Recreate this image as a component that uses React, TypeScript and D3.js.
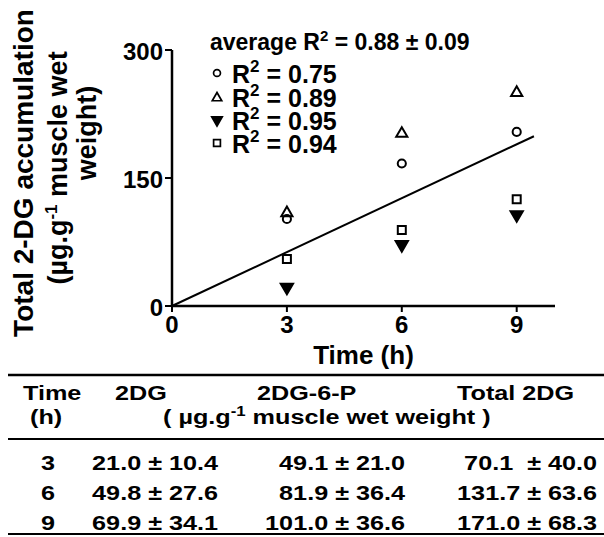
import React from 'react';
import * as d3 from 'd3';

// time points (h) and the four individual fish series
const hours = [3, 6, 9];
const circleVals = [102, 167, 204];
const triUpVals = [109, 202, 250];
const triDownVals = [22, 72, 107];
const squareVals = [55, 89, 125];

// regression through the origin
const fitSlope = 21.05;
const fitEnd = 9.45;

const xTicks = [0, 3, 6, 9];
const yTicks = [0, 150, 300];

const legendLabels = ['0.75', '0.89', '0.95', '0.94'];
const averageLabel = '0.88 \u00b1 0.09';

// table
const tableHeader = ['Time', '2DG', '2DG-6-P', 'Total 2DG'];
const tableTimes = ['3', '6', '9'];
const col2DG = ['21.0 \u00b1 10.4', '49.8 \u00b1 27.6', '69.9 \u00b1 34.1'];
const col2DG6P = ['49.1 \u00b1 21.0', '81.9 \u00b1 36.4', '101.0 \u00b1 36.6'];
const colTotal = ['70.1  \u00b1 40.0', '131.7 \u00b1 63.6', '171.0 \u00b1 68.3'];

const FONT = "'Liberation Sans', Arial, Helvetica, sans-serif";

const x = d3.scaleLinear().domain([0, 10]).range([172, 555]);
const y = d3.scaleLinear().domain([0, 300]).range([306, 50]);

const sym = (type: d3.SymbolType, size: number) => d3.symbol().type(type).size(size)() || '';

const shapes = [
  { vals: circleVals, d: sym(d3.symbolCircle, 52), fill: 'none', rot: 0 },
  { vals: triUpVals, d: sym(d3.symbolTriangle, 54), fill: 'none', rot: 0 },
  { vals: triDownVals, d: sym(d3.symbolTriangle, 66), fill: '#000', rot: 180 },
  { vals: squareVals, d: sym(d3.symbolSquare, 64), fill: 'none', rot: 0 },
];

const legendY = [73, 98, 120, 143];
const legendBase = [83, 107, 130, 153];

const rowBase = [470, 500, 530];

// table text is set wider than the plot text
const TText = ({ x, y, anchor = 'start', children }: any) => (
  <text
    transform={`translate(${x},${y}) scale(1.2,1)`}
    textAnchor={anchor}
    style={{ whiteSpace: 'pre' }}
  >
    {children}
  </text>
);

const App = () => {
  return (
    <svg
      width={604}
      height={537}
      style={{ position: 'absolute', left: 0, top: 0, background: '#fff' }}
      fontFamily={FONT}
      fontWeight="bold"
    >
      {/* axes */}
      <line x1={x(0)} x2={x(0)} y1={y(0)} y2={y(300)} stroke="#000" strokeWidth={2.5} />
      <line x1={x(0)} x2={x(10)} y1={y(0)} y2={y(0)} stroke="#000" strokeWidth={2.5} />
      {yTicks.map((t) => (
        <g key={t}>
          <line x1={x(0) - 7} x2={x(0)} y1={y(t)} y2={y(t)} stroke="#000" strokeWidth={2} />
          <text x={x(0) - 9} y={y(t) + 10} textAnchor="end" fontSize={24}>
            {t}
          </text>
        </g>
      ))}
      {xTicks.map((t) => (
        <g key={t}>
          <line x1={x(t)} x2={x(t)} y1={y(0)} y2={y(0) + 6} stroke="#000" strokeWidth={2} />
          <text x={x(t)} y={333} textAnchor="middle" fontSize={24}>
            {t}
          </text>
        </g>
      ))}
      <text x={(x(0) + x(10)) / 2} y={364} textAnchor="middle" fontSize={26}>
        Time (h)
      </text>

      {/* y label */}
      <text transform="translate(33,173) rotate(-90)" textAnchor="middle" fontSize={28}>
        Total 2-DG accumulation
      </text>
      <text transform="translate(67,168) rotate(-90)" textAnchor="middle" fontSize={27}>
        (µg.g<tspan dy={-10} fontSize={17}>-1</tspan>
        <tspan dy={10}> muscle wet</tspan>
      </text>
      <text transform="translate(96,133) rotate(-90)" textAnchor="middle" fontSize={27}>
        weight)
      </text>

      {/* fit line */}
      <line
        x1={x(0)}
        y1={y(0)}
        x2={x(fitEnd)}
        y2={y(fitSlope * fitEnd)}
        stroke="#000"
        strokeWidth={2}
      />

      {/* points */}
      {shapes.map((s, i) =>
        s.vals.map((v, j) => (
          <path
            key={`${i}-${j}`}
            d={s.d}
            transform={`translate(${x(hours[j])},${y(v)}) rotate(${s.rot})`}
            fill={s.fill}
            stroke="#000"
            strokeWidth={2}
          />
        ))
      )}

      {/* legend */}
      <text x={210} y={50} fontSize={23}>
        average R<tspan dy={-9} fontSize={15}>2</tspan>
        <tspan dy={9}> = {averageLabel}</tspan>
      </text>
      {shapes.map((s, i) => (
        <g key={i}>
          <path
            d={s.d}
            transform={`translate(217,${legendY[i]}) rotate(${s.rot}) scale(0.85)`}
            fill={s.fill}
            stroke="#000"
            strokeWidth={2}
          />
          <text x={232} y={legendBase[i]} fontSize={25}>
            R<tspan dy={-11} fontSize={17}>2</tspan>
            <tspan dy={11}> = {legendLabels[i]}</tspan>
          </text>
        </g>
      ))}

      {/* table */}
      <line x1={8} x2={604} y1={375} y2={375} stroke="#000" strokeWidth={2.5} />
      <line x1={8} x2={604} y1={439} y2={439} stroke="#000" strokeWidth={2} />
      <line x1={8} x2={604} y1={534} y2={534} stroke="#000" strokeWidth={2} />
      <g fontSize={21}>
        <TText x={23} y={400}>{tableHeader[0]}</TText>
        <TText x={115} y={400}>{tableHeader[1]}</TText>
        <TText x={257} y={400}>{tableHeader[2]}</TText>
        <TText x={457} y={400}>{tableHeader[3]}</TText>
        <TText x={30} y={424}>(h)</TText>
        <TText x={163} y={424}>
          ( µg.g<tspan dy={-8} fontSize={14}>-1</tspan>
          <tspan dy={8}> muscle wet weight )</tspan>
        </TText>
        {tableTimes.map((t, i) => (
          <g key={t}>
            <TText x={48} y={rowBase[i]} anchor="middle">{t}</TText>
            <TText x={218} y={rowBase[i]} anchor="end">{col2DG[i]}</TText>
            <TText x={405} y={rowBase[i]} anchor="end">{col2DG6P[i]}</TText>
            <TText x={597} y={rowBase[i]} anchor="end">{colTotal[i]}</TText>
          </g>
        ))}
      </g>
    </svg>
  );
};

export default App;
